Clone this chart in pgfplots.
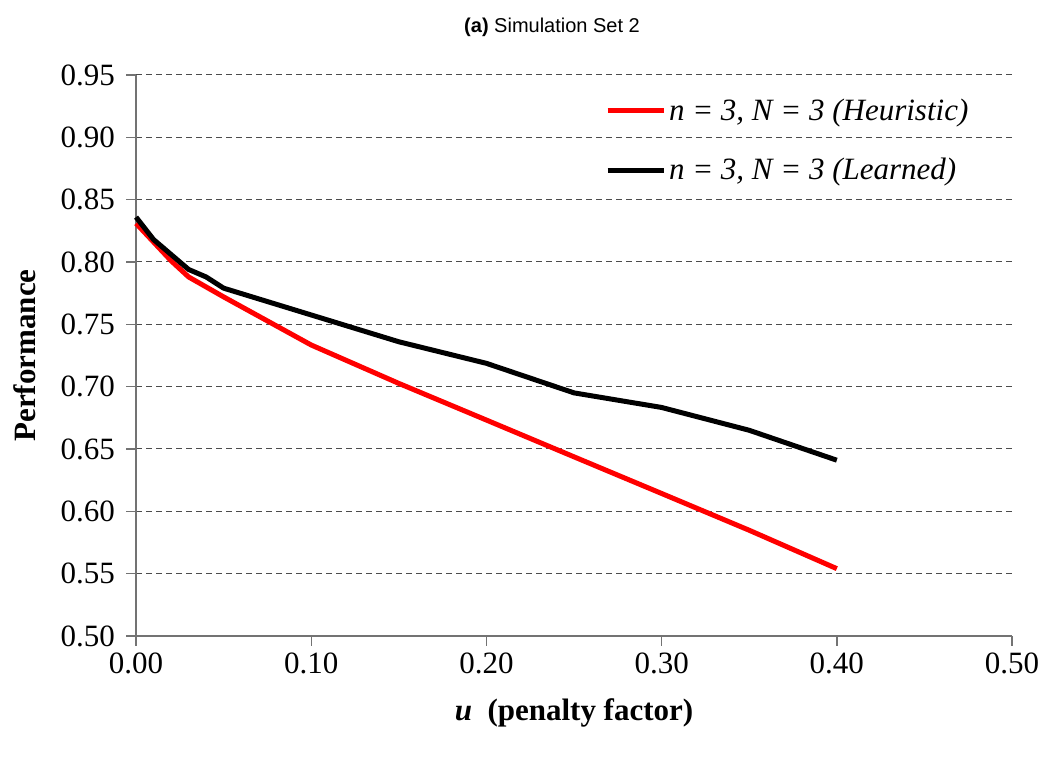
\documentclass[border=0pt]{standalone}
\usepackage{fontspec}
\setmainfont{Liberation Serif}
\newfontfamily\titlefont{Liberation Sans}
\usepackage{pgfplots}
\pgfplotsset{compat=1.18}
\begin{document}
\begin{tikzpicture}
\begin{axis}[
  scale only axis,
  width=438pt, height=280.5pt,
  xmin=0, xmax=0.5, ymin=0.5, ymax=0.95,
  xtick={0,0.1,0.2,0.3,0.4,0.5},
  ytick={0.5,0.55,0.6,0.65,0.7,0.75,0.8,0.85,0.9,0.95},
  axis lines=left,
  axis line style={-, draw=black!55, line width=0.7pt},
  tick style={draw=black!55, line width=0.7pt},
  tick align=outside,
  major tick length=5pt,
  ymajorgrids,
  grid style={dash pattern=on 3pt off 2pt, draw=black!70, line width=0.5pt},
  /pgf/number format/assume math mode=true,
  /pgf/number format/.cd, fixed, fixed zerofill, precision=2, /pgfplots/.cd,
  ticklabel style={font=\fontsize{15.5}{18}\selectfont},
  yticklabel style={xshift=-2pt},
  xlabel={\textbf{\textit{u}}\ \ \textbf{(penalty factor)}},
  xlabel style={font=\fontsize{15.5}{18}\selectfont, at={(rel axis cs:0.5,-0.1373)}, anchor=center},
  ylabel={\textbf{Performance}},
  ylabel style={font=\fontsize{15.5}{18}\selectfont, at={(rel axis cs:-0.1267,0.5)}, anchor=center},
  clip=false,
  legend cell align=left,
  legend style={draw=none, fill=none, at={(rel axis cs:0.535,0.964)}, anchor=north west,
    font=\fontsize{15.5}{18}\selectfont\itshape, row sep=14.5pt, inner sep=0pt,
    nodes={inner sep=1.5pt}},
  legend image code/.code={\draw[#1] (0pt,0pt) -- (28pt,0pt);},
]
\addplot[red, line width=2.5pt, line join=round] coordinates {
 (0,0.831) (0.01,0.816) (0.02,0.801) (0.03,0.788) (0.04,0.780) (0.05,0.772)
 (0.10,0.7334) (0.15,0.7026) (0.20,0.6732) (0.25,0.6437) (0.30,0.6143) (0.35,0.5848) (0.40,0.554)
};
\addlegendentry{n = 3, N = 3 (Heuristic)}
\addplot[black, line width=2.5pt, line join=round] coordinates {
 (0,0.836) (0.01,0.818) (0.02,0.806) (0.03,0.794) (0.04,0.788) (0.05,0.779)
 (0.10,0.7575) (0.15,0.736) (0.20,0.7187) (0.25,0.695) (0.30,0.6833) (0.35,0.665) (0.40,0.641)
};
\addlegendentry{n = 3, N = 3 (Learned)}
\node[font=\titlefont\fontsize{10}{12}\selectfont, anchor=center] at (rel axis cs:0.4749,1.0856) {\textbf{(a)} Simulation Set 2};
\path[draw=none] (rel axis cs:-0.1553,-0.2193) rectangle (rel axis cs:1.0388,1.1337);
\end{axis}
\end{tikzpicture}
\end{document}
